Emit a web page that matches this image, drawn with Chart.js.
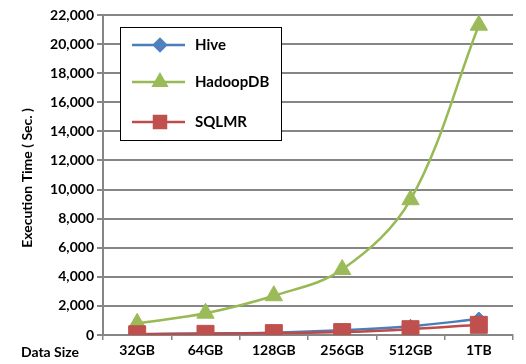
<!DOCTYPE html>
<html><head><meta charset="utf-8">
<script src="https://cdn.jsdelivr.net/npm/chart.js@4/dist/chart.umd.min.js"></script>
<style>html,body{margin:0;padding:0;background:#fff}canvas{display:block}</style>
</head><body>
<canvas id="c" width="526" height="364"></canvas>
<script>
const categories = ['32GB','64GB','128GB','256GB','512GB','1TB'];
const hive = [60, 110, 160, 320, 600, 1100];
const hadoopDB = [800, 1500, 2700, 4500, 9300, 21300];
const sqlmr = [50, 80, 130, 200, 400, 700];
const yTicks = [0,2000,4000,6000,8000,10000,12000,14000,16000,18000,20000,22000];

const FONT = 'Lato, "Open Sans", sans-serif';
const legendRadius = [6, 7.5, 8.5];

const extras = {
  id: 'extras',
  afterDatasetsDraw(chart) {
    const ctx = chart.ctx;
    ctx.save();
    const bx = 120.5, by = 27.5, bw = 161, bh = 113;
    ctx.fillStyle = '#fff';
    ctx.fillRect(bx, by, bw, bh);
    ctx.strokeStyle = '#000';
    ctx.lineWidth = 1;
    ctx.strokeRect(bx, by, bw, bh);
    const ys = [45, 82, 122];
    chart.data.datasets.forEach((ds, i) => {
      const y = ys[i];
      ctx.strokeStyle = ds.borderColor;
      ctx.lineWidth = 2.5;
      ctx.beginPath(); ctx.moveTo(132, y); ctx.lineTo(185, y); ctx.stroke();
      ctx.fillStyle = ds.backgroundColor;
      ctx.strokeStyle = ds.backgroundColor;
      Chart.helpers.drawPoint(ctx, {pointStyle: ds.pointStyle, radius: legendRadius[i], borderWidth: 1}, 160, y);
      ctx.fillStyle = '#000';
      ctx.font = 'bold 15px ' + FONT;
      ctx.textAlign = 'left';
      ctx.textBaseline = 'middle';
      ctx.fillText(ds.label, 195, y);
    });
    ctx.restore();
  },
  afterDraw(chart) {
    const ctx = chart.ctx;
    ctx.save();
    ctx.fillStyle = '#000';
    ctx.font = 'bold 14px ' + FONT;
    ctx.textAlign = 'center';
    ctx.textBaseline = 'middle';
    ctx.fillText('Data Size', 50, 352);
    ctx.translate(27, 178);
    ctx.rotate(-Math.PI / 2);
    ctx.fillText('Execution Time ( Sec. )', 0, 0);
    ctx.restore();
  }
};

new Chart(document.getElementById('c'), {
  type: 'line',
  data: {
    labels: categories,
    datasets: [
      {label: 'Hive', data: hive, order: 2, borderColor: '#4A7EBB', backgroundColor: '#4F81BD', pointBorderColor: '#4F81BD', pointStyle: 'rectRot', pointRadius: 7, pointBorderWidth: 1, borderWidth: 2.5, tension: 0.35},
      {label: 'HadoopDB', data: hadoopDB, order: 1, borderColor: '#98B954', backgroundColor: '#9BBB59', pointBorderColor: '#9BBB59', pointStyle: 'triangle', pointRadius: 10, pointBorderWidth: 1, borderWidth: 2.5, tension: 0.35},
      {label: 'SQLMR', data: sqlmr, order: 0, borderColor: '#BE4B48', backgroundColor: '#C0504D', pointBorderColor: '#C0504D', pointStyle: 'rect', pointRadius: 12, pointBorderWidth: 1, borderWidth: 2.5, tension: 0.35}
    ]
  },
  options: {
    responsive: false,
    animation: false,
    layout: {padding: {top: 15, right: 5, bottom: 0, left: 0}},
    plugins: {legend: {display: false}, tooltip: {enabled: false}},
    scales: {
      x: {
        offset: true,
        grid: {display: true, drawOnChartArea: false, drawTicks: true, offset: true, tickLength: 5, color: '#868686', lineWidth: 1.5},
        border: {display: true, color: '#868686', width: 2},
        ticks: {color: '#000', font: {family: FONT, size: 14, weight: 'bold'}, padding: 2, maxRotation: 0},
        afterFit(s) { s.height = 29; }
      },
      y: {
        min: 0, max: 22000,
        afterBuildTicks(s) { s.ticks = yTicks.map(v => ({value: v})); },
        grid: {color: '#868686', lineWidth: 2, tickLength: 6},
        border: {display: true, color: '#868686', width: 2},
        ticks: {color: '#000', font: {family: FONT, size: 14, weight: 'bold'}, padding: 3,
          callback: v => v.toLocaleString('en-US')},
        afterFit(s) { s.width = 103; }
      }
    }
  },
  plugins: [extras]
});
</script>
</body></html>
